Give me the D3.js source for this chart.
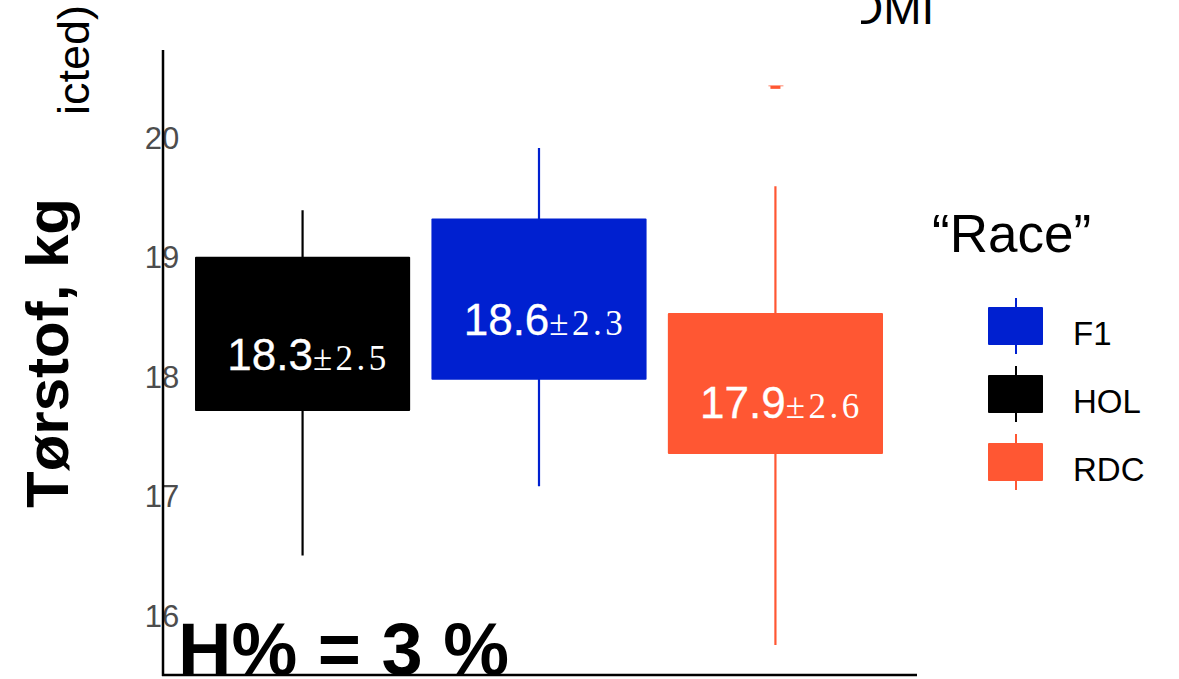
<!DOCTYPE html>
<html><head><meta charset="utf-8">
<script src="https://cdn.jsdelivr.net/npm/d3@7"></script>
<style>html,body{margin:0;padding:0;background:#fff;}svg{display:block;}</style>
</head><body>
<svg id="c" width="1179" height="679"></svg>
<script>
const categories = ["HOL", "F1", "RDC"];
const colors = ["#000000", "#0020D0", "#FF5733"];
const whiskerLow = [16.5, 17.08, 15.75];
const q1 = [17.71, 17.97, 17.35];
const q3 = [19.0, 19.32, 18.53];
const whiskerHigh = [19.39, 19.91, 19.59];
const means = ["18.3", "18.6", "17.9"];
const sds = ["2.5", "2.3", "2.6"];
const meanValues = [18.3, 18.6, 17.9];
const outliers = [{cat: "RDC", value: 20.43}];
const yTicks = [16, 17, 18, 19, 20];
const legendOrder = ["F1", "HOL", "RDC"];

const svg = d3.select("#c");
const y = d3.scaleLinear().domain([15.5, 20.73]).range([675, 50]);
const x = d3.scaleBand().domain(categories).range([195, 883]).paddingInner(0.09).paddingOuter(0);
const col = d3.scaleOrdinal().domain(categories).range(colors);

const data = categories.map((c, i) => ({c, lo: whiskerLow[i], q1: q1[i], q3: q3[i], hi: whiskerHigh[i], m: means[i], s: sds[i], mv: meanValues[i]}));
const g = svg.append("g");
g.selectAll("line.wh").data(data).join("line")
  .attr("x1", d => x(d.c) + x.bandwidth()/2).attr("x2", d => x(d.c) + x.bandwidth()/2)
  .attr("y1", d => y(d.hi)).attr("y2", d => y(d.lo))
  .attr("stroke", d => col(d.c)).attr("stroke-width", 2.2);
g.selectAll("rect.box").data(data).join("rect")
  .attr("x", d => x(d.c)).attr("width", x.bandwidth())
  .attr("y", d => y(d.q3)).attr("height", d => y(d.q1) - y(d.q3))
  .attr("fill", d => col(d.c)).attr("rx", 1);
g.selectAll("rect.out").data(outliers).join("rect")
  .attr("x", d => x(d.cat) + x.bandwidth()/2 - 5).attr("width", 10)
  .attr("y", d => y(d.value)).attr("height", 3)
  .attr("fill", d => col(d.cat));
g.selectAll("line.out").data(outliers).join("line")
  .attr("x1", d => x(d.cat) + x.bandwidth()/2 - 7).attr("x2", d => x(d.cat) + x.bandwidth()/2 + 8)
  .attr("y1", d => y(d.value)).attr("y2", d => y(d.value))
  .attr("stroke", d => col(d.cat)).attr("stroke-width", 1).attr("opacity", 0.7);

const lab = g.selectAll("text.lab").data(data).join("text")
  .attr("x", d => x(d.c) + x.bandwidth()/2 + 6)
  .attr("y", d => y(d.mv) + 30)
  .attr("text-anchor", "middle").attr("fill", "#fff");
lab.append("tspan").attr("font-family", "Liberation Sans, Arial, sans-serif").attr("font-size", 44)
  .attr("stroke", "#fff").attr("stroke-width", 0.3).text(d => d.m);
lab.append("tspan").attr("font-family", "Liberation Serif, Times New Roman, serif").attr("font-size", 35).attr("letter-spacing", 3.5).text(d => "±" + d.s);

const yAxis = d3.axisLeft(y).tickValues(yTicks).tickFormat(d3.format("d")).tickSize(0).tickPadding(0);
const ya = svg.append("g").attr("transform", "translate(162,0)").call(yAxis);
ya.select(".domain").remove();
ya.selectAll("text").attr("font-family", "Liberation Sans, Arial, sans-serif").attr("font-size", 31)
  .attr("fill", "#4d4d4d").attr("text-anchor", "middle").attr("x", 0).attr("dy", "0.35em");
svg.append("line").attr("x1", 163).attr("x2", 163).attr("y1", 50).attr("y2", 676).attr("stroke", "#000").attr("stroke-width", 2.5);
svg.append("line").attr("x1", 162).attr("x2", 917).attr("y1", 675).attr("y2", 675).attr("stroke", "#000").attr("stroke-width", 2.5);

svg.append("text").attr("x", 178).attr("y", 675).attr("font-family", "Liberation Sans, Arial, sans-serif")
  .attr("font-weight", "bold").attr("font-size", 74).attr("fill", "#000").text("H% = 3 %");

svg.append("text").attr("transform", "translate(68,353) rotate(-90)").attr("text-anchor", "middle")
  .attr("font-family", "Liberation Sans, Arial, sans-serif").attr("font-weight", "bold").attr("font-size", 60)
  .attr("fill", "#000").text("Tørstof, kg");
svg.append("text").attr("transform", "translate(89,5) rotate(-90)").attr("text-anchor", "end")
  .attr("font-family", "Liberation Sans, Arial, sans-serif").attr("font-size", 45)
  .attr("fill", "#000").text("icted)");

svg.append("clipPath").attr("id", "tc").append("rect").attr("x", 861).attr("y", 0).attr("width", 200).attr("height", 40);
svg.append("text").attr("clip-path", "url(#tc)").attr("x", 850).attr("y", 24)
  .attr("font-family", "Liberation Sans, Arial, sans-serif").attr("font-size", 46).attr("fill", "#000").text("DMI");

svg.append("text").attr("x", 932).attr("y", 252).attr("font-family", "Liberation Sans, Arial, sans-serif")
  .attr("font-size", 53).attr("fill", "#000").text("“Race”");
const lg = svg.append("g").selectAll("g").data(legendOrder).join("g")
  .attr("transform", (d, i) => `translate(988,${307 + i * 68})`);
lg.append("line").attr("x1", 28).attr("x2", 28).attr("y1", -9).attr("y2", 47).attr("stroke", d => col(d)).attr("stroke-width", 2);
lg.append("rect").attr("width", 55).attr("height", 38).attr("fill", d => col(d)).attr("rx", 1);
lg.append("text").attr("x", 85).attr("y", 26).attr("dy", "0.35em").attr("font-family", "Liberation Sans, Arial, sans-serif")
  .attr("font-size", 33).attr("fill", "#000").text(d => d);
</script>
</body></html>
